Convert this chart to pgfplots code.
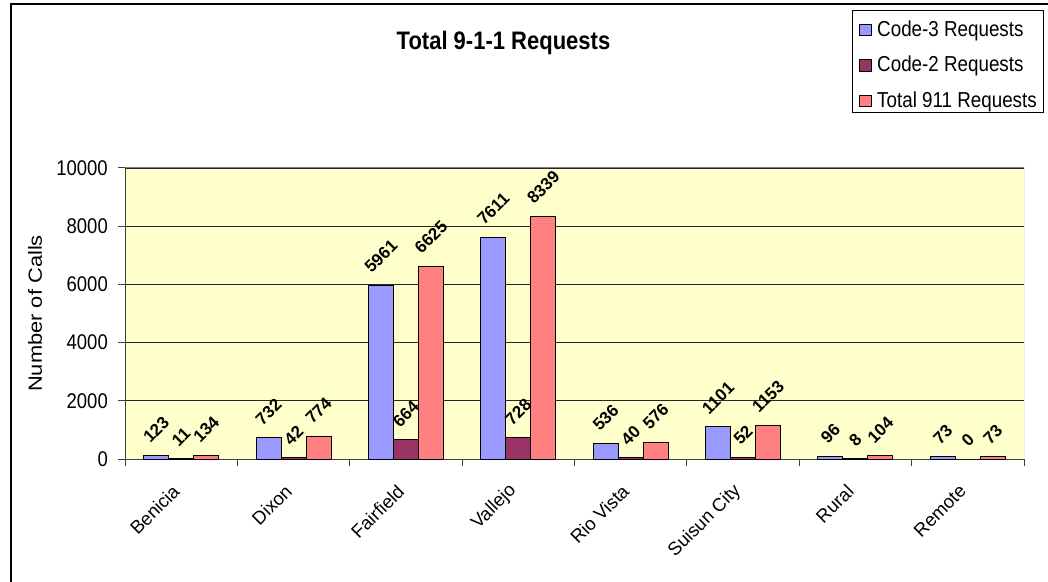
\documentclass[border=0pt]{standalone}
\usepackage{fontspec}
\setmainfont{Liberation Sans}
\usepackage{graphicx}
\usepackage{pgfplots}
\pgfplotsset{compat=1.18}
\definecolor{cthree}{HTML}{9999FF}
\definecolor{ctwo}{HTML}{993366}
\definecolor{ctot}{HTML}{FF8080}
\definecolor{bgy}{HTML}{FFFFCC}
\newcommand{\st}[1]{\scalebox{1}[1.15]{#1}}
\begin{document}
\begin{tikzpicture}[x=1pt,y=1pt]
\useasboundingbox (0,0) rectangle (1048,581);
\draw[line width=1.3pt] (11,-10) -- (11,577) -- (1060,577);
\begin{axis}[
  at={(125pt,122pt)}, anchor=south west,
  width=899pt, height=291pt, scale only axis,
  xmin=-0.5, xmax=7.5, ymin=0, ymax=10000,
  axis background/.style={fill=bgy},
  axis x line*=bottom, axis y line*=left,
  axis line style={line width=1pt, black!75},
  tick align=outside,
  xtick={0,...,7},
  xticklabels={Benicia,Dixon,Fairfield,Vallejo,Rio Vista,Suisun City,Rural,Remote},
  major x tick style={draw=none},
  minor xtick={-0.5,0.5,...,7.5},
  minor tick length=7pt,
  minor x tick style={black!75, line width=1pt},
  ytick={0,2000,...,10000},
  major tick length=7pt,
  major y tick style={black!75, line width=1pt},
  scaled y ticks=false,
  ymajorgrids,
  major grid style={black!85, line width=0.8pt},
  /pgf/number format/.cd, 1000 sep={}, assume math mode=true, /pgfplots/.cd,
  yticklabel style={font=\fontsize{18.5}{20}\selectfont, inner sep=0pt, xshift=-10pt, yscale=1.15},
  xticklabel style={font=\fontsize{18.5}{20}\selectfont, inner sep=0pt, yshift=-22pt, xshift=-5pt, rotate=45, anchor=east},
  ylabel={Number of Calls},
  ylabel style={at={(axis description cs:-0.100,0.5)}, anchor=center, font=\fontsize{19}{20}\selectfont, xscale=1.15},
  title={Total 9-1-1 Requests},
  title style={at={(axis description cs:0.421,1.385)}, anchor=base, font=\bfseries\fontsize{22}{26}\selectfont, yscale=1.15},
  nodes near coords={\rotatebox{45}{\pgfmathprintnumber{\pgfplotspointmeta}}},
  every node near coord/.append style={anchor=south, inner sep=0pt, yshift=11pt, font=\bfseries\fontsize{17}{20}\selectfont},
  legend style={at={(axis description cs:0.8087,1.543)}, anchor=north west,
    draw=black, line width=0.8pt, fill=white, inner xsep=7pt, inner ysep=5pt,
    row sep=14.5pt, column sep=5pt,
    nodes={inner sep=0pt, text height=21pt, text depth=0pt, anchor=west},
    font=\fontsize{18.8}{20}\selectfont},
  legend cell align=left,
  legend image code/.code={\draw[#1, line width=0.8pt] (0pt,-10pt) rectangle (12pt,1.5pt);},
]
\addplot[ybar, bar width=25pt, bar shift=-25pt, fill=cthree, draw=black, line width=1pt,
  every node near coord/.append style={xshift=-25pt}]
  coordinates {(0,123) (1,732) (2,5961) (3,7611) (4,536) (5,1101) (6,96) (7,73)};
\addplot[ybar, bar width=25pt, bar shift=0pt, fill=ctwo, draw=black, line width=1pt]
  coordinates {(0,11) (1,42) (2,664) (3,728) (4,40) (5,52) (6,8) (7,0)};
\addplot[ybar, bar width=25pt, bar shift=25pt, fill=ctot, draw=black, line width=1pt,
  every node near coord/.append style={xshift=25pt}]
  coordinates {(0,134) (1,774) (2,6625) (3,8339) (4,576) (5,1153) (6,104) (7,73)};
\legend{\st{Code-3 Requests}, \st{Code-2 Requests}, \st{Total 911 Requests}}
\draw[black!50, line width=1pt] (rel axis cs:0,1) -- (rel axis cs:1,1) -- (rel axis cs:1,0);
\end{axis}
\end{tikzpicture}
\end{document}
